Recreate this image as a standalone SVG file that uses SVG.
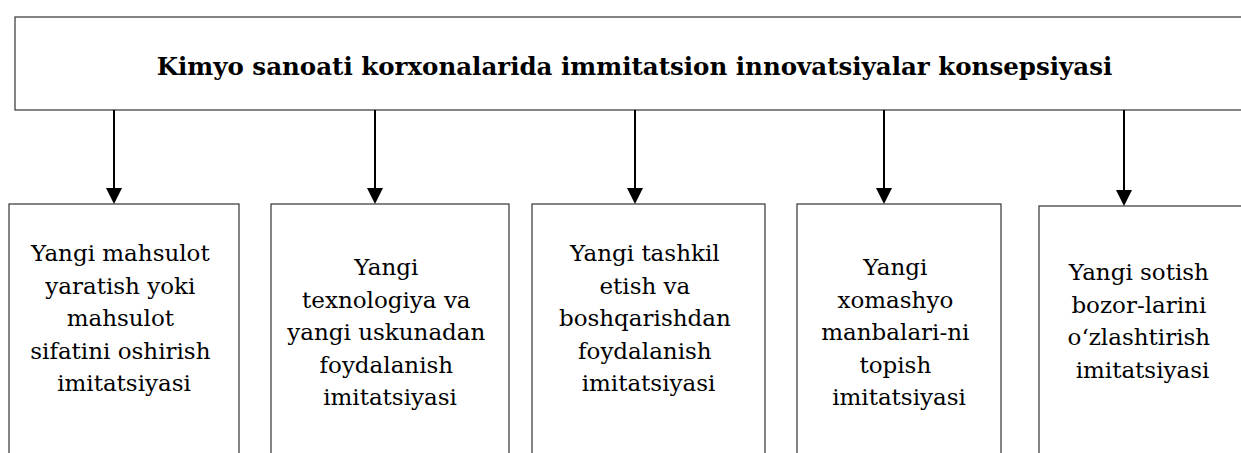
<svg xmlns="http://www.w3.org/2000/svg" width="1241" height="453" viewBox="0 0 1241 453">
  <style>
    .box { fill: #ffffff; stroke: #333333; stroke-width: 1.2; }
    .conn { stroke: #000000; stroke-width: 2; fill: none; marker-end: url(#head); }
    .title { font-family: 'DejaVu Serif', 'Liberation Serif', serif; font-size: 24.5px; font-weight: bold; fill: #000000; text-anchor: middle; }
    .label { font-family: 'DejaVu Serif', 'Liberation Serif', serif; font-size: 23px; fill: #000000; text-anchor: middle; }
  </style>
  <defs>
    <marker id="head" markerUnits="userSpaceOnUse" markerWidth="16" markerHeight="16" refX="0" refY="8" orient="auto" overflow="visible">
      <path d="M0,0 L16,8 L0,16 Z" fill="#000000"/>
    </marker>
  </defs>
  <rect width="1241" height="453" fill="#ffffff"/>

  <!-- Main concept -->
  <g id="concept">
    <rect class="box" x="15" y="17" width="1240" height="93"/>
    <text class="title" x="634.5" y="75">Kimyo sanoati korxonalarida immitatsion innovatsiyalar konsepsiyasi</text>
  </g>

  <!-- Connectors -->
  <g id="connectors">
    <line class="conn" x1="114" y1="110" x2="114" y2="188"/>
    <line class="conn" x1="375" y1="110" x2="375" y2="188"/>
    <line class="conn" x1="635" y1="110" x2="635" y2="188"/>
    <line class="conn" x1="884" y1="110" x2="884" y2="188"/>
    <line class="conn" x1="1124" y1="110" x2="1124" y2="190"/>
  </g>

  <g id="product">
    <rect class="box" x="9" y="204" width="230" height="260"/>
    <text class="label" x="124">
      <tspan x="124" y="261">Yangi mahsulot</tspan>
      <tspan x="124" y="293.5">yaratish yoki</tspan>
      <tspan x="124" y="326">mahsulot</tspan>
      <tspan x="124" y="358.5">sifatini oshirish</tspan>
      <tspan x="124" y="391">imitatsiyasi</tspan>
    </text>
  </g>

  <g id="technology">
    <rect class="box" x="271" y="204" width="238" height="260"/>
    <text class="label" x="390">
      <tspan x="390" y="275">Yangi</tspan>
      <tspan x="390" y="307.5">texnologiya va</tspan>
      <tspan x="390" y="340">yangi uskunadan</tspan>
      <tspan x="390" y="372.5">foydalanish</tspan>
      <tspan x="390" y="405">imitatsiyasi</tspan>
    </text>
  </g>

  <g id="management">
    <rect class="box" x="532" y="204" width="233" height="260"/>
    <text class="label" x="648.5">
      <tspan x="648.5" y="261">Yangi tashkil</tspan>
      <tspan x="648.5" y="293.5">etish va</tspan>
      <tspan x="648.5" y="326">boshqarishdan</tspan>
      <tspan x="648.5" y="358.5">foydalanish</tspan>
      <tspan x="648.5" y="391">imitatsiyasi</tspan>
    </text>
  </g>

  <g id="materials">
    <rect class="box" x="797" y="204" width="204" height="260"/>
    <text class="label" x="899">
      <tspan x="899" y="275">Yangi</tspan>
      <tspan x="899" y="307.5">xomashyo</tspan>
      <tspan x="899" y="340">manbalari-ni</tspan>
      <tspan x="899" y="372.5">topish</tspan>
      <tspan x="899" y="405">imitatsiyasi</tspan>
    </text>
  </g>

  <g id="markets">
    <rect class="box" x="1039" y="206" width="220" height="260"/>
    <text class="label" x="1142.5">
      <tspan x="1142.5" y="280">Yangi sotish</tspan>
      <tspan x="1142.5" y="312.5">bozor-larini</tspan>
      <tspan x="1142.5" y="345">o‘zlashtirish</tspan>
      <tspan x="1142.5" y="377.5">imitatsiyasi</tspan>
    </text>
  </g>
</svg>
